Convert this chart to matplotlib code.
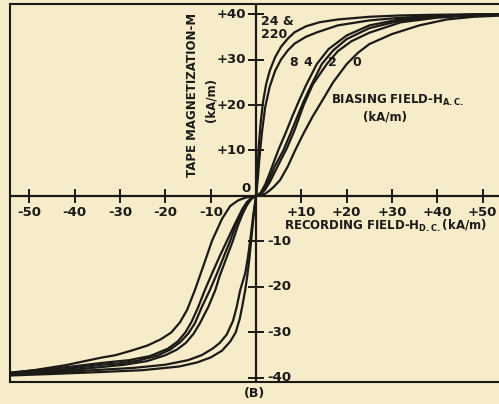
import numpy as np
import matplotlib
matplotlib.use('Agg')
import matplotlib.pyplot as plt

plt.rcParams['font.family'] = 'DejaVu Sans'
plt.rcParams['font.weight'] = 'bold'
plt.rcParams['mathtext.fontset'] = 'dejavusans'
plt.rcParams['mathtext.default'] = 'bf'

# curves, first quadrant (H, M) ...
h_220 = [0, 0.3, 0.6, 1.0, 1.5, 2.2, 3, 4.2, 5.5, 7, 8.5, 11, 14, 18, 25, 32, 40, 48, 55]
m_220 = [0, 5, 11, 16, 20.5, 24.5, 27.5, 30.5, 32.8, 34.6, 36, 37.3, 38.2, 38.8, 39.4, 39.7, 39.85, 39.95, 40]

h_24 = [0, 0.4, 0.8, 1.3, 2, 3, 4.2, 5.5, 7, 8.5, 11, 13.5, 18, 25, 32, 40, 48, 55]
m_24 = [0, 4, 9, 14, 19.5, 24, 27.5, 30, 32, 33.5, 35, 36, 37.5, 38.6, 39.2, 39.6, 39.85, 39.95]

h_8 = [0, 1, 2, 3, 4, 5, 6.5, 8, 9.5, 11, 13.4, 16, 20, 25, 32, 40, 48, 55]
m_8 = [0, 0.7, 2.5, 5, 7.7, 10.3, 13.8, 17.5, 21, 24.3, 29, 32.3, 35.3, 37.5, 38.9, 39.6, 39.9, 40]

h_4 = [0, 1, 2, 3, 4, 6, 7.5, 9, 10.5, 12, 14.5, 17, 20, 25, 32, 40, 48, 55]
m_4 = [0, 0.5, 1.8, 3.8, 6.3, 10, 13.5, 17.2, 20.8, 24, 29, 32, 34.5, 36.9, 38.6, 39.4, 39.8, 39.9]

h_2 = [0, 1, 2, 3, 4, 5.5, 6.8, 8.5, 10.5, 12.5, 15.6, 18, 21, 25, 32, 40, 48, 55]
m_2 = [0, 0.4, 1.4, 3, 5, 8, 10.5, 14.5, 20, 24.5, 29, 31.8, 34, 35.9, 38.2, 39.2, 39.7, 39.9]

h_0 = [0, 1, 2, 3, 4, 5.3, 7, 8.6, 10.5, 12.5, 14.5, 17, 20, 22.5, 25, 30, 36, 42, 48, 55]
m_0 = [0, 0.15, 0.5, 1.2, 2.1, 3.5, 6.5, 10, 13.8, 17.5, 20.8, 25, 29, 31.5, 33.4, 35.6, 37.5, 38.8, 39.4, 39.7]

# ... and third quadrant
hn_220 = [0, -0.5, -1.0, -1.5, -2.0, -2.4, -3.0, -3.6, -4.5, -5.7, -7.5, -10, -13, -17, -25, -34, -44, -55]
mn_220 = [0, -4, -9, -14, -18, -20.7, -24, -27, -30, -32, -34, -35.5, -36.6, -37.5, -38.3, -38.7, -39.1, -39.5]

hn_24 = [0, -0.6, -1.2, -1.8, -2.4, -3.5, -4.3, -5.1, -6.5, -8, -9.5, -12, -15, -20, -27, -34, -44, -55]
mn_24 = [0, -4, -9, -13.5, -17, -20.7, -24.5, -27.5, -30.5, -32.3, -33.5, -35, -36.1, -37.1, -37.8, -38.2, -38.8, -39.4]

hn_8 = [0, -1, -2, -3, -4, -5.1, -6.5, -8, -9, -10.5, -12.4, -13.8, -15.5, -17.5, -20, -24, -29, -34, -44, -55]
mn_8 = [0, -0.6, -2, -4, -6.5, -9.8, -13.5, -17.5, -20.7, -24.3, -28, -30.3, -32.3, -33.8, -35, -36.3, -37.1, -37.6, -38.6, -39.3]

hn_4 = [0, -1, -2, -3, -4.5, -5.7, -7, -8.6, -10.2, -12, -13.5, -15, -16.8, -19, -21.8, -26, -30, -34, -44, -55]
mn_4 = [0, -0.5, -1.6, -3.3, -6.5, -9.8, -13, -17, -20.7, -24.5, -28, -30.3, -32.2, -33.8, -35.1, -36.2, -36.8, -37.1, -38.3, -39.1]

hn_2 = [0, -1, -2, -3, -4.5, -6.4, -8, -9.7, -11.3, -12.8, -14.2, -15.6, -17.3, -19.5, -23.4, -28, -34, -44, -55]
mn_2 = [0, -0.4, -1.3, -2.8, -5.8, -9.8, -13.2, -17, -20.7, -24.5, -27.6, -30, -32, -33.6, -35.2, -36.1, -36.7, -37.9, -38.9]

hn_0 = [0, -1, -2, -3, -4, -5.7, -7.5, -9.7, -11.5, -13.5, -15.2, -16.8, -18.7, -21, -24, -27.5, -31, -34.4, -42, -49, -55]
mn_0 = [0, -0.1, -0.3, -0.6, -1.0, -2.2, -5, -9.8, -15, -20.7, -25, -27.8, -30, -31.5, -32.9, -34, -35, -35.6, -37.2, -38.3, -39]

x_ticks = [-50, -40, -30, -20, -10, 10, 20, 30, 40, 50]
x_labels = ['-50', '-40', '-30', '-20', '-10', '+10', '+20', '+30', '+40', '+50']
y_ticks = [40, 30, 20, 10, -10, -20, -30, -40]
y_labels = ['+40', '+30', '+20', '+10', '-10', '-20', '-30', '-40']

curve_labels = ['8', '4', '2', '0']
curve_label_x = [8.2, 11.5, 16.8, 22.3]

paper = '#f6ecca'
ink = '#1c1a17'

fig = plt.figure(figsize=(4.99, 4.04), dpi=100, facecolor=paper)
ax = fig.add_axes([0.02, 0.0545, 0.99, 0.9355])
ax.set_facecolor(paper)
ax.set_xlim(-54.3, 54.7)
ax.set_ylim(-40.9, 42.2)
ax.set_xticks([])
ax.set_yticks([])
for s in ax.spines.values():
    s.set_linewidth(1.5)
    s.set_color(ink)

pos = [(h_220, m_220), (h_24, m_24), (h_8, m_8), (h_4, m_4), (h_2, m_2), (h_0, m_0)]
neg = [(hn_220, mn_220), (hn_24, mn_24), (hn_8, mn_8), (hn_4, mn_4), (hn_2, mn_2), (hn_0, mn_0)]
for (hp, mp), (hn, mn) in zip(pos, neg):
    h = hn[:0:-1] + hp
    m = mn[:0:-1] + mp
    ax.plot(h, m, color=ink, lw=1.6, solid_capstyle='round', solid_joinstyle='round')

# axes through the origin
ax.axhline(0, color=ink, lw=1.6)
ax.axvline(0, color=ink, lw=1.6)
ax.plot(x_ticks, [0] * len(x_ticks), ls='none', marker='|', ms=9.5, mew=1.4, color=ink)
ax.plot([0] * len(y_ticks), y_ticks, ls='none', marker='_', ms=11.5, mew=1.4, color=ink)

fs = 9.5
for xt, lab in zip(x_ticks, x_labels):
    ax.text(xt, -3.6, lab, ha='center', va='center', fontsize=fs, color=ink)
for yt, lab in zip(y_ticks, y_labels):
    if yt > 0:
        ax.text(-2.2, yt, lab, ha='right', va='center', fontsize=fs, color=ink)
    else:
        ax.text(2.4, yt, lab, ha='left', va='center', fontsize=fs, color=ink)
ax.text(-1.2, 1.6, '0', ha='right', va='center', fontsize=fs, color=ink)

ax.text(6.2, -6.7, 'RECORDING FIELD-H$_{D.C.}$(kA/m)', ha='left', va='center',
        fontsize=8.5, color=ink)
ax.text(-14.1, 22.3, 'TAPE MAGNETIZATION-M', rotation=90, ha='center', va='center',
        fontsize=8.5, color=ink)
ax.text(-10.0, 21.1, '(kA/m)', rotation=90, ha='center', va='center',
        fontsize=8.5, color=ink)
ax.text(16.6, 21.0, 'BIASING FIELD-H$_{A.C.}$', ha='left', va='center',
        fontsize=8.5, color=ink)
ax.text(28.5, 17.4, '(kA/m)', ha='center', va='center', fontsize=8.5, color=ink)

ax.text(1.1, 38.3, '24 &', ha='left', va='center', fontsize=9, color=ink)
ax.text(1.1, 35.4, '220', ha='left', va='center', fontsize=9, color=ink)
for lab, xl in zip(curve_labels, curve_label_x):
    ax.text(xl, 29.4, lab, ha='center', va='center', fontsize=9, color=ink)

fig.text(0.511, 0.027, '(B)', ha='center', va='center', fontsize=9, color=ink)

fig.savefig('out.png', dpi=100, facecolor=paper)
